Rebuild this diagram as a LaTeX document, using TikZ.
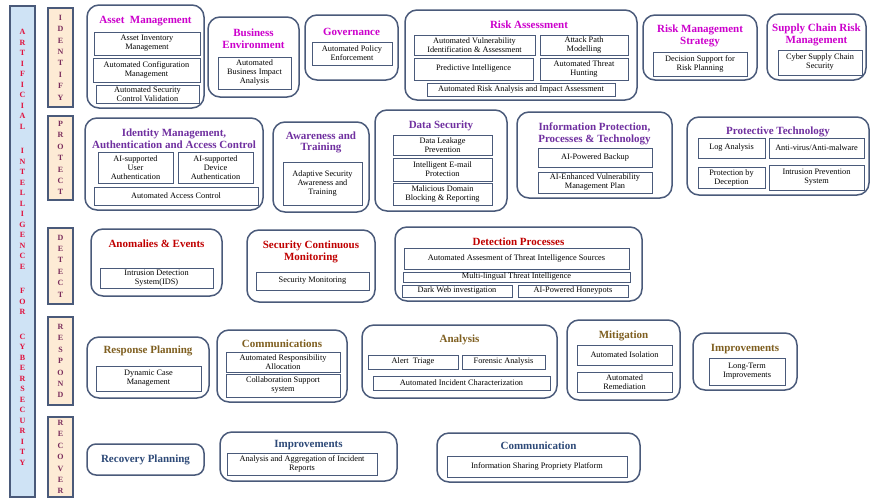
\documentclass[tikz,border=0pt]{standalone}
\usepackage{fontspec}
\setmainfont{Liberation Serif}

\definecolor{edge}{HTML}{4A5A7A}
\definecolor{barblue}{HTML}{CFE3F5}
\definecolor{phasebg}{HTML}{FDEBD5}
\definecolor{phaseltr}{HTML}{7A2D5C}
\definecolor{aired}{HTML}{E0103C}
\definecolor{idcol}{HTML}{CC00CC}
\definecolor{prcol}{HTML}{7030A0}
\definecolor{decol}{HTML}{C00000}
\definecolor{rscol}{HTML}{7F5F20}
\definecolor{rccol}{HTML}{2E4A78}

\newcommand{\itemfont}{\fontsize{8.3}{9}\selectfont}
\newcommand{\headfont}{\fontsize{11}{11.5}\selectfont\bfseries}
\newcommand{\phasefont}{\fontsize{8}{11.4}\selectfont\bfseries}
\newcommand{\barfont}{\fontsize{8}{10.5}\selectfont\bfseries}

\begin{document}
\begin{tikzpicture}
            [x=1pt, y=-1pt, every node/.style={inner sep=0.5pt, align=center, font=\itemfont},
             grp/.style={draw=edge, line width=1.5pt, rounded corners=12pt, fill=white},
             itm/.style={draw=edge, line width=0.8pt, fill=white},
             phase/.style={draw=edge, line width=1.6pt, fill=phasebg, minimum width=25pt, text=phaseltr, font=\phasefont},
             ttl/.style={font=\headfont},
             idt/.style={ttl, text=idcol}, prt/.style={ttl, text=prcol}, det/.style={ttl, text=decol},
             rst/.style={ttl, text=rscol}, rct/.style={ttl, text=rccol}]

            \useasboundingbox[fill=white] (0,0) rectangle (870,499);

            % AI bar
            \node[draw=edge, line width=1.6pt, fill=barblue, minimum width=25pt, minimum height=491pt] (aibar) at (22.5,251.5) {};
            \node[text=aired, font=\barfont] (aitext) at (22.5,247.5) {A\\R\\T\\I\\F\\I\\C\\I\\A\\L\\[14pt]I\\N\\T\\E\\L\\L\\I\\G\\E\\N\\C\\E\\[14pt]F\\O\\R\\[14pt]C\\Y\\B\\E\\R\\S\\E\\C\\U\\R\\I\\T\\Y};

            % phases
            \node[phase, minimum height=99pt] (identify) at (60.5,57.5) {I\\D\\E\\N\\T\\I\\F\\Y};
            \node[phase, minimum height=84pt] (protect) at (60.5,158) {P\\R\\O\\T\\E\\C\\T};
            \node[phase, minimum height=76pt] (detect) at (60.5,266) {D\\E\\T\\E\\C\\T};
            \node[phase, minimum height=88pt] (respond) at (60.5,361) {R\\E\\S\\P\\O\\N\\D};
            \node[phase, minimum height=80pt] (recover) at (60.5,457) {R\\E\\C\\O\\V\\E\\R};

            % identify
            \node[grp, minimum width=117pt, minimum height=103pt] (asset) at (145.5,56.5) {};
            \node[idt] (assetT) at (145.5,21) {Asset\ \ Management};
            \node[itm, minimum width=106pt, minimum height=23pt] (asset1) at (147,43.5) {Asset Inventory\\Management};
            \node[itm, minimum width=107pt, minimum height=24pt] (asset2) at (146.5,70) {Automated Configuration\\Management};
            \node[itm, minimum width=103pt, minimum height=18pt] (asset3) at (147.5,94) {Automated Security\\Control Validation};

            \node[grp, minimum width=91pt, minimum height=80pt] (busenv) at (253.5,57) {};
            \node[idt] (busenvT) at (253.5,38.5) {Business\\Environment};
            \node[itm, minimum width=73pt, minimum height=32pt] (busenv1) at (254.5,73) {Automated\\Business Impact\\Analysis};

            \node[grp, minimum width=93pt, minimum height=65pt] (gov) at (351.5,47.5) {};
            \node[idt] (govT) at (351.5,32) {Governance};
            \node[itm, minimum width=80pt, minimum height=23pt] (gov1) at (352,53.5) {Automated Policy\\Enforcement};

            \node[grp, minimum width=232pt, minimum height=90pt] (risk) at (521,55) {};
            \node[idt] (riskT) at (529,25) {Risk Assessment};
            \node[itm, minimum width=121pt, minimum height=20pt] (risk1) at (474.5,45) {Automated Vulnerability\\Identification \& Assessment};
            \node[itm, minimum width=88pt, minimum height=20pt] (risk2) at (584,45) {Attack Path\\Modelling};
            \node[itm, minimum width=119pt, minimum height=22pt] (risk3) at (473.5,69) {Predictive Intelligence};
            \node[itm, minimum width=88pt, minimum height=22pt] (risk4) at (584,69) {Automated Threat\\Hunting};
            \node[itm, minimum width=188pt, minimum height=13pt] (risk5) at (521,89.5) {Automated Risk Analysis and Impact Assessment};

            \node[grp, minimum width=114pt, minimum height=65pt] (rms) at (700,47.5) {};
            \node[idt] (rmsT) at (700,36) {Risk Management\\Strategy};
            \node[itm, minimum width=94pt, minimum height=24pt] (rms1) at (700,64) {Decision Support for\\Risk Planning};

            \node[grp, minimum width=99pt, minimum height=66pt] (scrm) at (816.5,47) {};
            \node[idt] (scrmT) at (816.5,35) {Supply Chain Risk\\Management};
            \node[itm, minimum width=84pt, minimum height=25pt] (scrm1) at (820,62.5) {Cyber Supply Chain\\Security};

            % protect
            \node[grp, minimum width=178pt, minimum height=92pt] (iam) at (174,164) {};
            \node[prt] (iamT) at (174,138.5) {Identity Management,\\Authentication and Access Control};
            \node[itm, minimum width=75pt, minimum height=31pt] (iam1) at (135.5,167.5) {AI-supported\\User\\Authentication};
            \node[itm, minimum width=75pt, minimum height=31pt] (iam2) at (215.5,167.5) {AI-supported\\Device\\Authentication};
            \node[itm, minimum width=164pt, minimum height=18pt] (iam3) at (176,196) {Automated Access Control};

            \node[grp, minimum width=96pt, minimum height=90pt] (aware) at (321,167) {};
            \node[prt] (awareT) at (321,142.5) {Awareness and\\Training};
            \node[itm, minimum width=79pt, minimum height=43pt] (aware1) at (322.5,183.5) {Adaptive Security\\Awareness and\\Training};

            \node[grp, minimum width=132pt, minimum height=101pt] (dsec) at (441,160.5) {};
            \node[prt] (dsecT) at (441,126) {Data Security};
            \node[itm, minimum width=99pt, minimum height=20pt] (dsec1) at (442.5,145) {Data Leakage\\Prevention};
            \node[itm, minimum width=99pt, minimum height=23pt] (dsec2) at (442.5,169.5) {Intelligent E-mail\\Protection};
            \node[itm, minimum width=99pt, minimum height=22pt] (dsec3) at (442.5,194) {Malicious Domain\\Blocking \& Reporting};

            \node[grp, minimum width=155pt, minimum height=86pt] (infop) at (594.5,155) {};
            \node[prt] (infopT) at (594.5,134) {Information Protection,\\Processes \& Technology};
            \node[itm, minimum width=114pt, minimum height=19pt] (infop1) at (595,157.5) {AI-Powered Backup};
            \node[itm, minimum width=114pt, minimum height=21pt] (infop2) at (595,182.5) {AI-Enhanced Vulnerability\\Management Plan};

            \node[grp, minimum width=182pt, minimum height=78pt] (ptech) at (778,156) {};
            \node[prt] (ptechT) at (778,132) {Protective Technology};
            \node[itm, minimum width=67pt, minimum height=20pt] (ptech1) at (731.5,148) {Log Analysis};
            \node[itm, minimum width=95pt, minimum height=20pt] (ptech2) at (816.5,148) {Anti-virus/Anti-malware};
            \node[itm, minimum width=67pt, minimum height=21pt] (ptech3) at (731.5,177.5) {Protection by\\Deception};
            \node[itm, minimum width=95pt, minimum height=25pt] (ptech4) at (816.5,177.5) {Intrusion Prevention\\System};

            % detect
            \node[grp, minimum width=131pt, minimum height=67pt] (anom) at (156.5,262.5) {};
            \node[det] (anomT) at (156.5,244) {Anomalies \& Events};
            \node[itm, minimum width=113pt, minimum height=20pt] (anom1) at (156.5,278) {Intrusion Detection\\System(IDS)};

            \node[grp, minimum width=128pt, minimum height=72pt] (scm) at (311,266) {};
            \node[det] (scmT) at (311,252) {Security Continuous\\Monitoring};
            \node[itm, minimum width=113pt, minimum height=18pt] (scm1) at (312.5,281) {Security Monitoring};

            \node[grp, minimum width=247pt, minimum height=74pt] (dproc) at (518.5,264) {};
            \node[det] (dprocT) at (518.5,242) {Detection Processes};
            \node[itm, minimum width=225pt, minimum height=21pt] (dproc1) at (516.5,258.5) {Automated Assesment of Threat Intelligence Sources};
            \node[itm, minimum width=227pt, minimum height=10pt] (dproc2) at (516.5,277) {Multi-lingual Threat Intelligence};
            \node[itm, minimum width=110pt, minimum height=12pt] (dproc3) at (457,291) {Dark Web investigation};
            \node[itm, minimum width=110pt, minimum height=12pt] (dproc4) at (573,291) {AI-Powered Honeypots};

            % respond
            \node[grp, minimum width=122pt, minimum height=61pt] (rplan) at (148,367.5) {};
            \node[rst] (rplanT) at (148,351) {Response Planning};
            \node[itm, minimum width=105pt, minimum height=25pt] (rplan1) at (148.5,378.5) {Dynamic Case\\Management};

            \node[grp, minimum width=130pt, minimum height=72pt] (comms) at (282,366) {};
            \node[rst] (commsT) at (282,344) {Communications};
            \node[itm, minimum width=114pt, minimum height=20pt] (comms1) at (283,362) {Automated Responsibility\\Allocation};
            \node[itm, minimum width=114pt, minimum height=23pt] (comms2) at (283,385.5) {Collaboration Support\\system};

            \node[grp, minimum width=195pt, minimum height=73pt] (anal) at (459.5,361.5) {};
            \node[rst] (analT) at (459.5,340) {Analysis};
            \node[itm, minimum width=90pt, minimum height=14pt] (anal1) at (413,362) {Alert\ \ Triage};
            \node[itm, minimum width=83pt, minimum height=14pt] (anal2) at (503.5,362) {Forensic Analysis};
            \node[itm, minimum width=177pt, minimum height=14pt] (anal3) at (461.5,383) {Automated Incident Characterization};

            \node[grp, minimum width=113pt, minimum height=80pt] (mitig) at (623.5,360) {};
            \node[rst] (mitigT) at (623.5,336) {Mitigation};
            \node[itm, minimum width=95pt, minimum height=20pt] (mitig1) at (624.5,355) {Automated Isolation};
            \node[itm, minimum width=95pt, minimum height=20pt] (mitig2) at (624.5,382) {Automated\\Remediation};

            \node[grp, minimum width=104pt, minimum height=57pt] (impr) at (745,361.5) {};
            \node[rst] (imprT) at (745,349) {Improvements};
            \node[itm, minimum width=76pt, minimum height=27pt] (impr1) at (747,371.5) {Long-Term\\Improvements};

            % recover
            \node[grp, minimum width=117pt, minimum height=31pt, rounded corners=9pt, rct] (rcplan) at (145.5,459.5) {Recovery Planning};

            \node[grp, minimum width=177pt, minimum height=49pt] (rimpr) at (308.5,456.5) {};
            \node[rct] (rimprT) at (308.5,445) {Improvements};
            \node[itm, minimum width=150pt, minimum height=22pt] (rimpr1) at (302,464) {Analysis and Aggregation of Incident\\Reports};

            \node[grp, minimum width=203pt, minimum height=49pt] (rcomm) at (538.5,457.5) {};
            \node[rct] (rcommT) at (538.5,446) {Communication};
            \node[itm, minimum width=180pt, minimum height=21pt] (rcomm1) at (537,466.5) {Information Sharing Propriety Platform};
          \end{tikzpicture}
\end{document}
